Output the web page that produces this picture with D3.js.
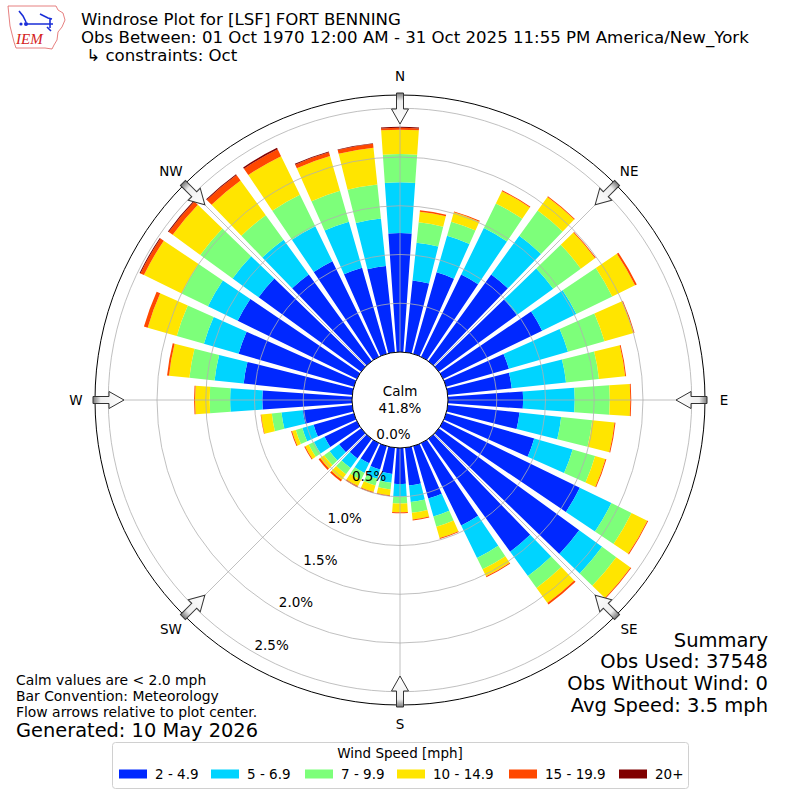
<!DOCTYPE html>
<html>
<head>
<meta charset="utf-8">
<script src="https://cdn.jsdelivr.net/npm/d3@7"></script>
<style>
  body { margin: 0; background: #fff; }
  text { font-family: "DejaVu Sans", sans-serif; fill: #000; }
</style>
</head>
<body>
<script>
// wind directions (degrees, meteorological convention)
var directions = [0, 10, 20, 30, 40, 50, 60, 70, 80, 90, 100, 110, 120, 130, 140, 150, 160, 170,
                  180, 190, 200, 210, 220, 230, 240, 250, 260, 270, 280, 290, 300, 310, 320, 330, 340, 350];
var speedBins = ["2 - 4.9", "5 - 6.9", "7 - 9.9", "10 - 14.9", "15 - 19.9", "20+"];
var binColors = ["#0028ff", "#00d4ff", "#7dff7a", "#ffe500", "#ff4800", "#800000"];

// frequency (%) per direction for each speed bin
var bin2to5 = [1.22, 0.74, 0.87, 0.94, 1.10, 0.99, 1.13, 0.67, 0.66, 0.77, 0.74, 0.94, 1.56, 1.78, 1.43, 0.94, 0.56, 0.39,
               0.37, 0.27, 0.25, 0.23, 0.25, 0.28, 0.37, 0.43, 0.51, 0.92, 1.12, 1.23, 1.36, 1.30, 1.10, 1.09, 0.92, 0.89];
var bin5to7 = [0.52, 0.39, 0.39, 0.53, 0.49, 0.46, 0.39, 0.63, 0.56, 0.53, 0.43, 0.41, 0.36, 0.29, 0.31, 0.37, 0.19, 0.17,
               0.13, 0.09, 0.10, 0.11, 0.12, 0.12, 0.12, 0.12, 0.22, 0.33, 0.30, 0.37, 0.34, 0.33, 0.44, 0.40, 0.49, 0.49];
var bin7to10 = [0.29, 0.21, 0.15, 0.28, 0.32, 0.35, 0.41, 0.39, 0.34, 0.36, 0.32, 0.24, 0.23, 0.18, 0.15, 0.13, 0.11, 0.11,
                0.07, 0.07, 0.07, 0.08, 0.08, 0.07, 0.06, 0.07, 0.10, 0.21, 0.26, 0.29, 0.30, 0.41, 0.31, 0.36, 0.33, 0.35];
var bin10to15 = [0.25, 0.11, 0.10, 0.14, 0.17, 0.18, 0.26, 0.31, 0.27, 0.21, 0.23, 0.11, 0.18, 0.18, 0.19, 0.08, 0.12, 0.07,
                 0.09, 0.06, 0.07, 0.07, 0.07, 0.05, 0.04, 0.04, 0.11, 0.15, 0.21, 0.31, 0.43, 0.35, 0.44, 0.44, 0.37, 0.38];
var bin15to20 = [0.02, 0.015, 0.01, 0.01, 0.01, 0.01, 0.02, 0.01, 0.01, 0.01, 0.01, 0.01, 0.01, 0.01, 0.02, 0.01, 0.01, 0.01,
                 0.01, 0.01, 0.01, 0.015, 0.02, 0.02, 0.01, 0.01, 0.005, 0.01, 0.02, 0.04, 0.04, 0.05, 0.07, 0.08, 0.04, 0.04];
var bin20plus = [0.01, 0, 0, 0, 0, 0, 0, 0, 0, 0, 0, 0, 0, 0, 0, 0, 0, 0,
                 0, 0, 0, 0, 0, 0, 0, 0, 0, 0, 0, 0, 0.01, 0.01, 0.01, 0.015, 0.01, 0.005];

var rTicks = [0.0, 0.5, 1.0, 1.5, 2.0, 2.5];
var rMax = 2.636;
var compass = ["N", "NE", "E", "SE", "S", "SW", "W", "NW"];
var compassDeg = [0, 45, 90, 135, 180, 225, 270, 315];
var calmPct = "41.8%";
var titleLines = ["Windrose Plot for [LSF] FORT BENNING",
                  "Obs Between: 01 Oct 1970 12:00 AM - 31 Oct 2025 11:55 PM America/New_York",
                  " \u21b3 constraints: Oct"];
var noteLines = ["Calm values are < 2.0 mph", "Bar Convention: Meteorology", "Flow arrows relative to plot center."];
var summaryLines = ["Summary", "Obs Used: 37548", "Obs Without Wind: 0", "Avg Speed: 3.5 mph"];

var cx = 400, cy = 400;
var toRad = Math.PI / 180;

var svg = d3.select("body").append("svg")
    .attr("width", 800).attr("height", 800)
    .style("background", "#fff");

var r = d3.scaleLinear().domain([0, rMax]).range([48, 305]);

// table for the stack
var keys = speedBins;
var table = directions.map(function(d, i) {
    var row = {dir: d};
    row[keys[0]] = bin2to5[i];
    row[keys[1]] = bin5to7[i];
    row[keys[2]] = bin7to10[i];
    row[keys[3]] = bin10to15[i];
    row[keys[4]] = bin15to20[i];
    row[keys[5]] = bin20plus[i];
    return row;
});
var series = d3.stack().keys(keys)(table);

var plot = svg.append("g").attr("transform", "translate(" + cx + "," + cy + ")");

var arc = d3.arc()
    .innerRadius(function(d) { return r(d[0]); })
    .outerRadius(function(d) { return r(d[1]); })
    .startAngle(function(d) { return (d.data.dir - 4) * toRad; })
    .endAngle(function(d) { return (d.data.dir + 4) * toRad; });

plot.selectAll(".layer")
    .data(series)
    .enter().append("g")
    .attr("class", "layer")
    .attr("fill", function(d, i) { return binColors[i]; })
    .selectAll("path")
    .data(function(d) { return d.filter(function(s) { return s[1] - s[0] > 0; }); })
    .enter().append("path")
    .attr("d", arc);

// grid on top of bars
plot.selectAll(".ring")
    .data(rTicks.slice(1))
    .enter().append("circle")
    .attr("r", function(d) { return r(d); })
    .attr("fill", "none")
    .attr("stroke", "#b0b0b0")
    .attr("stroke-width", 0.8);

plot.selectAll(".spoke")
    .data(compassDeg)
    .enter().append("line")
    .attr("x1", 0).attr("y1", 0)
    .attr("x2", function(d) { return r(rMax) * Math.sin(d * toRad); })
    .attr("y2", function(d) { return -r(rMax) * Math.cos(d * toRad); })
    .attr("stroke", "#b0b0b0")
    .attr("stroke-width", 0.8);

plot.append("circle")
    .attr("r", r(rMax))
    .attr("fill", "none")
    .attr("stroke", "#000")
    .attr("stroke-width", 1);

// calm circle
plot.append("circle")
    .attr("r", r(0))
    .attr("fill", "#fff")
    .attr("stroke", "#000")
    .attr("stroke-width", 1);
plot.append("text").attr("x", 0).attr("y", -9)
    .attr("text-anchor", "middle").attr("dominant-baseline", "central")
    .style("font-size", "13.5px").text("Calm");
plot.append("text").attr("x", 0).attr("y", 7.5)
    .attr("text-anchor", "middle").attr("dominant-baseline", "central")
    .style("font-size", "13.5px").text(calmPct);

// radial tick labels along 210 degrees
var labelDeg = 210;
plot.selectAll(".rlabel")
    .data(rTicks)
    .enter().append("text")
    .attr("x", function(d) { return r(d) * Math.sin(labelDeg * toRad) + 17.5; })
    .attr("y", function(d) { return -r(d) * Math.cos(labelDeg * toRad) - 8; })
    .attr("text-anchor", "middle")
    .attr("dominant-baseline", "central")
    .style("font-size", "13.5px")
    .text(function(d) { return d.toFixed(1) + "%"; });

// compass labels
plot.selectAll(".clabel")
    .data(compass)
    .enter().append("text")
    .attr("x", function(d, i) { return 324 * Math.sin(compassDeg[i] * toRad); })
    .attr("y", function(d, i) { return -324 * Math.cos(compassDeg[i] * toRad); })
    .attr("text-anchor", "middle")
    .attr("dominant-baseline", "central")
    .style("font-size", "13.5px")
    .text(function(d) { return d; });

// flow arrows, pointing at the center
var defs = svg.append("defs");
var grad = defs.append("linearGradient").attr("id", "arrowFill")
    .attr("x1", 0).attr("y1", 0).attr("x2", 0).attr("y2", 1);
grad.append("stop").attr("offset", "0%").attr("stop-color", "#777");
grad.append("stop").attr("offset", "25%").attr("stop-color", "#eee");
grad.append("stop").attr("offset", "100%").attr("stop-color", "#fff");

var arrowPath = "M-3.5,-307 L3.5,-307 L3.5,-291 L8.5,-291 L0,-276 L-8.5,-291 L-3.5,-291 Z";
plot.selectAll(".arrow")
    .data(compassDeg)
    .enter().append("path")
    .attr("d", arrowPath)
    .attr("transform", function(d) { return "rotate(" + d + ")"; })
    .attr("fill", "url(#arrowFill)")
    .attr("stroke", "#333")
    .attr("stroke-width", 1);

// title
svg.selectAll(".title")
    .data(titleLines)
    .enter().append("text")
    .attr("x", 81)
    .attr("y", function(d, i) { return 25 + i * 18; })
    .style("font-size", "16.6px")
    .style("white-space", "pre")
    .text(function(d) { return d; });

// IEM logo
var logo = svg.append("g");
logo.append("path")
    .attr("d", "M8,6 L56,6 L58,10 L63,13 L65,20 L62,27 L58,32 L57,40 L54,45 L52,49 L45,48 L16,48 L14,42 L12,34 L10,26 L9,16 Z")
    .attr("fill", "#fff").attr("stroke", "#e06060").attr("stroke-width", 0.8);
logo.append("path")
    .attr("d", "M19,11 L23,16 L26,22 M26,24 L53,24 M40,14 L48,18 L52,19 M50,19 L50,28 M47,27 L51,31")
    .attr("fill", "none").attr("stroke", "#1a2ed8").attr("stroke-width", 1.6);
logo.append("circle").attr("cx", 21).attr("cy", 24).attr("r", 1.6).attr("fill", "#1a2ed8");
logo.append("circle").attr("cx", 26).attr("cy", 24).attr("r", 2).attr("fill", "#1a2ed8");
logo.append("text").attr("x", 16).attr("y", 44)
    .style("font-family", "'Liberation Serif', 'DejaVu Serif', serif")
    .style("font-style", "italic")
    .style("font-size", "15px")
    .style("fill", "#d42020")
    .text("IEM");

// notes bottom left
svg.selectAll(".note")
    .data(noteLines)
    .enter().append("text")
    .attr("x", 16)
    .attr("y", function(d, i) { return 680 + i * 16; })
    .attr("dominant-baseline", "central")
    .style("font-size", "13.9px")
    .text(function(d) { return d; });
svg.append("text").attr("x", 16).attr("y", 730)
    .attr("dominant-baseline", "central")
    .style("font-size", "19.4px")
    .text("Generated: 10 May 2026");

// summary bottom right
svg.selectAll(".summary")
    .data(summaryLines)
    .enter().append("text")
    .attr("x", 768)
    .attr("y", function(d, i) { return 640 + i * 21.7; })
    .attr("text-anchor", "end")
    .attr("dominant-baseline", "central")
    .style("font-size", "19.5px")
    .text(function(d) { return d; });

// legend
var legend = svg.append("g");
legend.append("rect")
    .attr("x", 112.5).attr("y", 742.5).attr("width", 576).attr("height", 46)
    .attr("rx", 3).attr("fill", "#fff").attr("stroke", "#d0d0d0");
legend.append("text").attr("x", 400).attr("y", 753)
    .attr("text-anchor", "middle").attr("dominant-baseline", "central")
    .style("font-size", "13.5px").text("Wind Speed [mph]");
var legendX = [119, 211, 305, 397, 509, 619];
var item = legend.selectAll(".item")
    .data(speedBins)
    .enter().append("g")
    .attr("transform", function(d, i) { return "translate(" + legendX[i] + ",774)"; });
item.append("rect")
    .attr("x", 0).attr("y", -4.5).attr("width", 28).attr("height", 9)
    .attr("fill", function(d, i) { return binColors[i]; });
item.append("text")
    .attr("x", 36).attr("y", 0)
    .attr("dominant-baseline", "central")
    .style("font-size", "13.5px")
    .text(function(d) { return d; });
</script>
</body>
</html>
